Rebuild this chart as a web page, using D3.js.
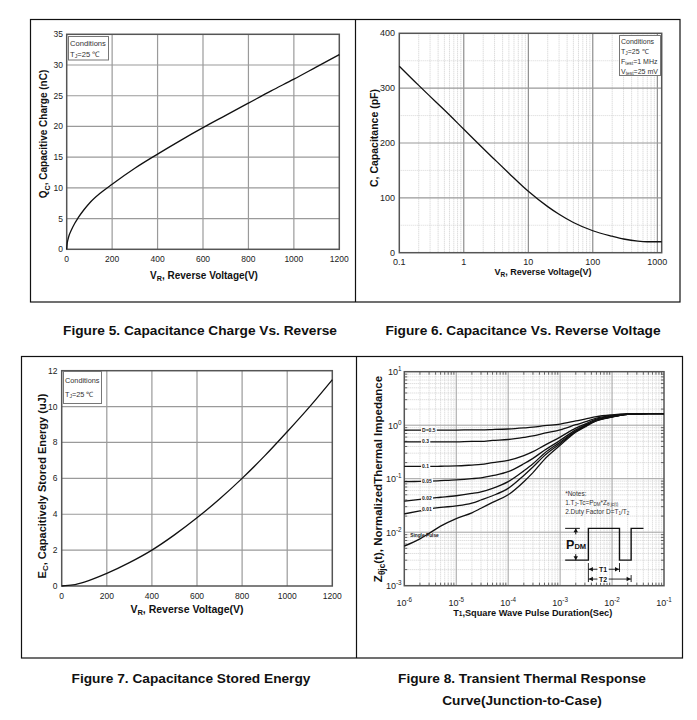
<!DOCTYPE html>
<html><head><meta charset="utf-8">
<script src="https://cdn.jsdelivr.net/npm/d3@7/dist/d3.min.js"></script>
<style>
body{margin:0;background:#fff}
svg{display:block}
text{font-family:"Liberation Sans",Arial,Helvetica,sans-serif}
</style>
</head><body>
<svg id="c" width="697" height="720"></svg>
<script>
// ---------------- DATA ----------------
// Figure 5: capacitive charge
const qcVoltage = [0,2,5,10,20,35,50,75,100,150,200,300,400,500,600,700,800,900,1000,1100,1200];
const qcCharge  = [0,0.9,1.5,2.2,3.1,4.2,5.1,6.4,7.5,9.2,10.6,13.2,15.5,17.7,19.8,21.8,23.8,25.8,27.7,29.7,31.7];
const vTicks    = [0,200,400,600,800,1000,1200];
const qcTicks   = [0,5,10,15,20,25,30,35];

// Figure 6: capacitance
const capVoltage = [0.1,0.2,0.3,0.5,1,2,3,5,10,20,30,50,100,200,300,500,700,1170];
const capValue   = [340,305,285,260,225,190,170,145,112,84,70,55,40,30,25,21,20,20];
const capXTicks  = [0.1,1,10,100,1000];
const capXLabels = ["0.1","1","10","100","1000"];
const capYTicks  = [0,100,200,300,400];
const capYMinor  = [50,150,250,350];

// Figure 7: stored energy
const ecVoltage = [0,50,100,200,300,400,500,600,700,800,900,1000,1100,1200];
const ecEnergy  = [0,0.06,0.22,0.7,1.3,2.0,2.85,3.8,4.85,6.0,7.25,8.6,10.0,11.5];
const ecTicks   = [0,2,4,6,8,10,12];

// Figure 8: transient thermal impedance
const pulseTime = [1e-6,2e-6,3e-6,5e-6,1e-5,2e-5,3e-5,5e-5,1e-4,2e-4,3e-4,5e-4,1e-3,2e-3,3e-3,5e-3,1e-2,2e-2,3e-2,5e-2,1e-1];
const zD05    = [0.81,0.81,0.81,0.81,0.81,0.82,0.82,0.83,0.85,0.89,0.92,0.98,1.05,1.2,1.3,1.45,1.56,1.62,1.63,1.64,1.64];
const zD03    = [0.49,0.49,0.49,0.49,0.49,0.5,0.5,0.52,0.54,0.59,0.63,0.71,0.82,1.02,1.15,1.36,1.52,1.62,1.63,1.64,1.64];
const zD01    = [0.17,0.17,0.17,0.171,0.173,0.18,0.185,0.2,0.22,0.27,0.32,0.42,0.6,0.88,1.05,1.3,1.48,1.61,1.63,1.64,1.64];
const zD005   = [0.088,0.089,0.09,0.092,0.095,0.1,0.104,0.114,0.135,0.19,0.24,0.34,0.52,0.82,1.0,1.25,1.45,1.6,1.63,1.64,1.64];
const zD002   = [0.038,0.041,0.043,0.045,0.048,0.053,0.057,0.066,0.088,0.14,0.19,0.3,0.48,0.78,0.97,1.23,1.44,1.6,1.63,1.64,1.64];
const zD001   = [0.022,0.025,0.027,0.029,0.031,0.035,0.04,0.048,0.066,0.115,0.165,0.27,0.45,0.76,0.95,1.22,1.43,1.6,1.63,1.64,1.64];
const zSingle = [0.0055,0.0075,0.0095,0.013,0.018,0.023,0.028,0.036,0.05,0.088,0.13,0.23,0.42,0.74,0.93,1.2,1.42,1.6,1.63,1.64,1.64];
const dutySeries = [zD05,zD03,zD01,zD005,zD002,zD001];
const dutyLabels = ["D=0.5","0.3","0.1","0.05","0.02","0.01"];
const thermXExp = [-6,-5,-4,-3,-2,-1];
const thermYExp = [-3,-2,-1,0,1];

const captions = [
  {lines:["Figure 5. Capacitance Charge Vs. Reverse"], cx:200, y:335},
  {lines:["Figure 6. Capacitance Vs. Reverse Voltage"], cx:523, y:335},
  {lines:["Figure 7. Capacitance Stored Energy"], cx:191, y:683},
  {lines:["Figure 8. Transient Thermal Response","Curve(Junction-to-Case)"], cx:522, y:683}
];

// ---------------- DRAW ----------------
const svg = d3.select("#c");
const BLACK = "#111";

// outer table frames
svg.append("rect").attr("x",30.5).attr("y",19.5).attr("width",649.5).attr("height",282.5)
  .attr("fill","none").attr("stroke",BLACK).attr("stroke-width",1.2);
svg.append("line").attr("x1",355.5).attr("x2",355.5).attr("y1",19.5).attr("y2",302)
  .attr("stroke",BLACK).attr("stroke-width",1.2);
svg.append("rect").attr("x",21.5).attr("y",356.5).attr("width",661).attr("height",301.5)
  .attr("fill","none").attr("stroke",BLACK).attr("stroke-width",1.2);
svg.append("line").attr("x1",356.5).attr("x2",356.5).attr("y1",356.5).attr("y2",658)
  .attr("stroke",BLACK).attr("stroke-width",1.2);

// captions
captions.forEach(c=>{
  c.lines.forEach((l,i)=>{
    svg.append("text").attr("x",c.cx).attr("y",c.y+i*22).attr("text-anchor","middle")
      .attr("font-size",13.7).attr("font-weight","bold").attr("fill","#111").text(l);
  });
});

function gridLine(g,x1,y1,x2,y2,stroke,w,dash){
  const l=g.append("line").attr("x1",x1).attr("y1",y1).attr("x2",x2).attr("y2",y2)
    .attr("stroke",stroke).attr("stroke-width",w);
  if(dash) l.attr("stroke-dasharray",dash);
  return l;
}
function condBox(g,x,y,w,h,lines,fs,lh){
  g.append("rect").attr("x",x).attr("y",y).attr("width",w).attr("height",h)
    .attr("fill","#fff").attr("stroke","#777").attr("stroke-width",1);
  lines.forEach((ln,i)=>{
    const t=g.append("text").attr("x",x+1.5).attr("y",y+lh*(i+1)-2).attr("font-size",fs).attr("fill","#333");
    ln.forEach(p=>{
      const ts=t.append("tspan").text(p.t);
      if(p.sub){ts.attr("font-size",fs*0.7).attr("dy",1.5);}
      else if(p.after){ts.attr("dy",-1.5);}
    });
  });
}
function rotTitle(g,x,y,parts,fs){
  const t=g.append("text").attr("transform",`translate(${x},${y}) rotate(-90)`)
    .attr("text-anchor","middle").attr("font-size",fs).attr("font-weight","bold").attr("fill","#111");
  parts.forEach(p=>{
    const ts=t.append("tspan").text(p.t);
    if(p.sub) ts.attr("font-size",fs*0.72).attr("dy",fs*0.25);
    if(p.after) ts.attr("dy",-fs*0.25);
  });
}
function hTitle(g,x,y,parts,fs){
  const t=g.append("text").attr("x",x).attr("y",y)
    .attr("text-anchor","middle").attr("font-size",fs).attr("font-weight","bold").attr("fill","#111");
  parts.forEach(p=>{
    const ts=t.append("tspan").text(p.t);
    if(p.sub) ts.attr("font-size",fs*0.72).attr("dy",fs*0.25);
    if(p.after) ts.attr("dy",-fs*0.25);
  });
}
const curveLine = (x,y)=>d3.line().x(d=>x(d[0])).y(d=>y(d[1])).curve(d3.curveMonotoneX);

// ===== Figure 5 =====
{
  const g=svg.append("g");
  const x=d3.scaleLinear().domain([0,1200]).range([66.7,339.3]);
  const y=d3.scaleLinear().domain([0,35]).range([249.3,34.3]);
  vTicks.slice(1,-1).forEach(v=>gridLine(g,x(v),y(35),x(v),y(0),"#9a9a9a",1.2));
  qcTicks.slice(1,-1).forEach(v=>gridLine(g,x(0),y(v),x(1200),y(v),"#9a9a9a",1.2));
  g.append("rect").attr("x",x(0)).attr("y",y(35)).attr("width",x(1200)-x(0)).attr("height",y(0)-y(35))
    .attr("fill","none").attr("stroke","#555").attr("stroke-width",1.5);
  vTicks.forEach(v=>g.append("text").attr("x",x(v)).attr("y",262).attr("text-anchor","middle")
    .attr("font-size",8.5).attr("fill","#222").text(v));
  qcTicks.forEach(v=>g.append("text").attr("x",63).attr("y",y(v)+3).attr("text-anchor","end")
    .attr("font-size",8.5).attr("fill","#222").text(v));
  condBox(g,68.5,36.5,40,23.5,[[{t:"Conditions"}],[{t:"T"},{t:"J",sub:true},{t:"=25 ℃",after:true}]],7.6,11);
  g.append("path").datum(qcVoltage.map((v,i)=>[v,qcCharge[i]])).attr("d",curveLine(x,y))
    .attr("fill","none").attr("stroke",BLACK).attr("stroke-width",1.3);
  rotTitle(g,47,134,[{t:"Q"},{t:"C",sub:true},{t:", Capacitive Charge (nC)",after:true}],10);
  hTitle(g,204,278.5,[{t:"V"},{t:"R",sub:true},{t:",  Reverse Voltage(V)",after:true}],10);
}

// ===== Figure 6 =====
{
  const g=svg.append("g");
  const x=d3.scaleLog().domain([0.1,1170]).range([399.3,661.7]);
  const y=d3.scaleLinear().domain([0,400]).range([252.7,33.3]);
  [0.1,1,10,100,1000].forEach(d=>{for(let k=2;k<=9;k++){const v=d*k; if(v<1170) gridLine(g,x(v),y(400),x(v),y(0),"#c4c4c4",0.8,"1,1");}});
  capYMinor.forEach(v=>gridLine(g,x(0.1),y(v),x(1170),y(v),"#cfcfcf",0.8,"1,1"));
  capXTicks.slice(1).forEach(v=>gridLine(g,x(v),y(400),x(v),y(0),"#777",1));
  capYTicks.slice(1,-1).forEach(v=>gridLine(g,x(0.1),y(v),x(1170),y(v),"#999",1.1));
  g.append("rect").attr("x",x(0.1)).attr("y",y(400)).attr("width",x(1170)-x(0.1)).attr("height",y(0)-y(400))
    .attr("fill","none").attr("stroke","#555").attr("stroke-width",1.5);
  capXTicks.forEach((v,i)=>g.append("text").attr("x",x(v)).attr("y",265).attr("text-anchor","middle")
    .attr("font-size",9).attr("fill","#222").text(capXLabels[i]));
  capYTicks.forEach(v=>g.append("text").attr("x",395).attr("y",y(v)+3).attr("text-anchor","end")
    .attr("font-size",9).attr("fill","#222").text(v));
  condBox(g,619.5,35.5,41,40,[[{t:"Conditions"}],[{t:"T"},{t:"J",sub:true},{t:"=25 ℃",after:true}],
    [{t:"F"},{t:"test",sub:true},{t:"=1 MHz",after:true}],[{t:"V"},{t:"test",sub:true},{t:"=25 mV",after:true}]],7,10);
  g.append("path").datum(capVoltage.map((v,i)=>[v,capValue[i]])).attr("d",curveLine(x,y))
    .attr("fill","none").attr("stroke",BLACK).attr("stroke-width",1.3);
  rotTitle(g,377.5,138,[{t:"C, Capacitance (pF)"}],10.5);
  hTitle(g,543,275,[{t:"V"},{t:"R",sub:true},{t:", Reverse Voltage(V)",after:true}],9);
}

// ===== Figure 7 =====
{
  const g=svg.append("g");
  const x=d3.scaleLinear().domain([0,1200]).range([61.7,332.3]);
  const y=d3.scaleLinear().domain([0,12]).range([586,370.7]);
  vTicks.slice(1,-1).forEach(v=>gridLine(g,x(v),y(12),x(v),y(0),"#9a9a9a",1.2));
  ecTicks.slice(1,-1).forEach(v=>gridLine(g,x(0),y(v),x(1200),y(v),"#9a9a9a",1.2));
  g.append("rect").attr("x",x(0)).attr("y",y(12)).attr("width",x(1200)-x(0)).attr("height",y(0)-y(12))
    .attr("fill","none").attr("stroke","#555").attr("stroke-width",1.5);
  vTicks.forEach(v=>g.append("text").attr("x",x(v)).attr("y",599).attr("text-anchor","middle")
    .attr("font-size",8.5).attr("fill","#222").text(v));
  ecTicks.forEach(v=>g.append("text").attr("x",57.5).attr("y",y(v)+3).attr("text-anchor","end")
    .attr("font-size",8.5).attr("fill","#222").text(v));
  condBox(g,63.5,371.5,38,32,[[{t:"Conditions"}],[{t:"T"},{t:"J",sub:true},{t:"=25 ℃",after:true}]],7.3,13.5);
  g.append("path").datum(ecVoltage.map((v,i)=>[v,ecEnergy[i]])).attr("d",curveLine(x,y))
    .attr("fill","none").attr("stroke",BLACK).attr("stroke-width",1.3);
  rotTitle(g,45.5,486,[{t:"E"},{t:"C",sub:true},{t:", Capacitively Stored Energy (uJ)",after:true}],11);
  hTitle(g,187,612.5,[{t:"V"},{t:"R",sub:true},{t:",  Reverse Voltage(V)",after:true}],10.5);
}

// ===== Figure 8 =====
{
  const g=svg.append("g");
  const x=d3.scaleLog().domain([1e-6,1e-1]).range([404.3,664]);
  const y=d3.scaleLog().domain([1e-3,10]).range([585.7,371.7]);
  thermXExp.slice(0,-1).forEach(e=>{for(let k=2;k<=9;k++){const v=k*Math.pow(10,e); gridLine(g,x(v),y(10),x(v),y(1e-3),"#c8c8c8",0.8,"1,1");}});
  thermYExp.slice(0,-1).forEach(e=>{for(let k=2;k<=9;k++){const v=k*Math.pow(10,e); gridLine(g,x(1e-6),y(v),x(1e-1),y(v),"#c8c8c8",0.8,"1,1");}});
  thermXExp.slice(1,-1).forEach(e=>gridLine(g,x(Math.pow(10,e)),y(10),x(Math.pow(10,e)),y(1e-3),"#a0a0a0",1));
  thermYExp.slice(1,-1).forEach(e=>gridLine(g,x(1e-6),y(Math.pow(10,e)),x(1e-1),y(Math.pow(10,e)),"#a0a0a0",1));
  thermXExp.slice(0,-1).forEach(e=>{for(let k=2;k<=9;k++){const v=k*Math.pow(10,e);
    gridLine(g,x(v),y(1e-3),x(v),y(1e-3)-3,"#444",0.8); gridLine(g,x(v),y(10),x(v),y(10)+3,"#444",0.8);}});
  thermYExp.slice(0,-1).forEach(e=>{for(let k=2;k<=9;k++){const v=k*Math.pow(10,e);
    gridLine(g,x(1e-6),y(v),x(1e-6)+3,y(v),"#444",0.8); gridLine(g,x(1e-1),y(v),x(1e-1)-3,y(v),"#444",0.8);}});
  g.append("rect").attr("x",x(1e-6)).attr("y",y(10)).attr("width",x(1e-1)-x(1e-6)).attr("height",y(1e-3)-y(10))
    .attr("fill","none").attr("stroke","#555").attr("stroke-width",1.5);
  thermXExp.forEach(e=>{
    const t=g.append("text").attr("x",x(Math.pow(10,e))).attr("y",606).attr("text-anchor","middle")
      .attr("font-size",9).attr("fill","#222");
    t.append("tspan").text("10"); t.append("tspan").attr("font-size",6.3).attr("dy",-4).text(e);
  });
  thermYExp.forEach(e=>{
    const t=g.append("text").attr("x",401.5).attr("y",y(Math.pow(10,e))+3.5).attr("text-anchor","end")
      .attr("font-size",9).attr("fill","#222");
    t.append("tspan").text("10"); t.append("tspan").attr("font-size",6.3).attr("dy",-4).text(e);
  });
  const line=curveLine(x,y);
  const all=[...dutySeries,zSingle];
  all.forEach(s=>g.append("path").datum(pulseTime.map((t,i)=>[t,s[i]])).attr("d",line)
    .attr("fill","none").attr("stroke",BLACK).attr("stroke-width",1.3));
  const lx=2.2e-6;
  dutySeries.forEach((s,i)=>{
    const yv=Math.exp(d3.scaleLinear().domain(pulseTime.map(Math.log)).range(s.map(Math.log))(Math.log(3e-6)));
    const t=g.append("text").attr("x",x(lx)).attr("y",y(yv)+1.7).attr("font-size",5).attr("font-weight","bold")
      .attr("fill","#222").text(dutyLabels[i]);
    const bb=t.node().getBBox();
    g.insert("rect",()=>t.node()).attr("x",bb.x-1).attr("y",bb.y+0.5).attr("width",bb.width+2).attr("height",bb.height-1).attr("fill","#fff");
  });
  g.append("text").attr("x",x(1.3e-6)).attr("y",y(0.0083)).attr("font-size",4.8).attr("font-weight","bold")
    .attr("fill","#222").text("Single Pulse");
  const nfs=6.5;
  g.append("text").attr("x",x(1.25e-3)).attr("y",y(0.0475)).attr("font-size",nfs).attr("fill","#333").text("*Notes:");
  const n2=g.append("text").attr("x",x(1.25e-3)).attr("y",y(0.0324)).attr("font-size",nfs).attr("fill","#333");
  n2.append("tspan").text("1.T"); n2.append("tspan").attr("font-size",4.5).attr("dy",1).text("J");
  n2.append("tspan").attr("dy",-1).text("-Tc=P"); n2.append("tspan").attr("font-size",4.5).attr("dy",1).text("DM");
  n2.append("tspan").attr("dy",-1).text("*Z"); n2.append("tspan").attr("font-size",4.5).attr("dy",1).text("θ jc(t)");
  const n3=g.append("text").attr("x",x(1.25e-3)).attr("y",y(0.0219)).attr("font-size",nfs).attr("fill","#333");
  n3.append("tspan").text("2.Duty Factor D=T"); n3.append("tspan").attr("font-size",4.5).attr("dy",1).text("1");
  n3.append("tspan").attr("dy",-1).text("/T"); n3.append("tspan").attr("font-size",4.5).attr("dy",1).text("2");
  const hi=0.0118, lo=0.0030;
  const wave=[[1.25e-3,lo],[3.5e-3,lo],[3.5e-3,hi],[1.39e-2,hi],[1.39e-2,lo],[2.33e-2,lo],[2.33e-2,hi],[4.03e-2,hi]];
  g.append("path").attr("d",d3.line().x(d=>x(d[0])).y(d=>y(d[1]))(wave)).attr("fill","none").attr("stroke",BLACK).attr("stroke-width",1.4);
  gridLine(g,x(1.25e-3),y(hi),x(2.4e-3),y(hi),BLACK,1);
  const ax=x(2.0e-3);
  function arrowHead(px,py,dir){
    const s=2.2,l=4;
    let pts;
    if(dir==="up") pts=[[px,py],[px-s,py+l],[px+s,py+l]];
    if(dir==="down") pts=[[px,py],[px-s,py-l],[px+s,py-l]];
    if(dir==="left") pts=[[px,py],[px+l,py-s],[px+l,py+s]];
    if(dir==="right") pts=[[px,py],[px-l,py-s],[px-l,py+s]];
    g.append("path").attr("d","M"+pts.map(p=>p.join(",")).join("L")+"Z").attr("fill",BLACK);
  }
  gridLine(g,ax,y(hi),ax,y(hi)+6,BLACK,1); arrowHead(ax,y(hi),"up");
  gridLine(g,ax,y(lo),ax,y(lo)-6,BLACK,1); arrowHead(ax,y(lo),"down");
  const pt=g.append("text").attr("x",x(1.3e-3)).attr("y",(y(hi)+y(lo))/2+4.5).attr("font-size",12.5).attr("font-weight","bold").attr("fill","#111");
  pt.append("tspan").text("P"); pt.append("tspan").attr("font-size",7.5).text("DM");
  gridLine(g,x(3.5e-3),y(0.00265),x(3.5e-3),y(0.00117),BLACK,0.9);
  gridLine(g,x(1.39e-2),y(0.00265),x(1.39e-2),y(0.0018),BLACK,0.9);
  gridLine(g,x(2.33e-2),y(0.00158),x(2.33e-2),y(0.00117),BLACK,0.9);
  const yT1=y(0.00203), yT2=y(0.00133);
  gridLine(g,x(3.5e-3),yT1,x(1.39e-2),yT1,BLACK,0.9);
  gridLine(g,x(3.5e-3),yT2,x(2.33e-2),yT2,BLACK,0.9);
  arrowHead(x(3.5e-3)+0.5,yT1,"left"); arrowHead(x(1.39e-2)-0.5,yT1,"right");
  arrowHead(x(3.5e-3)+0.5,yT2,"left"); arrowHead(x(2.33e-2)-0.5,yT2,"right");
  [["T1",yT1],["T2",yT2]].forEach(([s,yy])=>{
    const t=g.append("text").attr("x",x(6.7e-3)).attr("y",yy+2.5).attr("text-anchor","middle").attr("font-size",7).attr("font-weight","bold").attr("fill","#111").text(s);
    const bb=t.node().getBBox();
    g.insert("rect",()=>t.node()).attr("x",bb.x-1.5).attr("y",bb.y).attr("width",bb.width+3).attr("height",bb.height).attr("fill","#fff");
  });
  rotTitle(g,382,479,[{t:"Z"},{t:"θjc",sub:true},{t:"(t),  NormalizedThermal Impedance",after:true}],11.5);
  const xt=g.append("text").attr("x",532.7).attr("y",616).attr("text-anchor","middle").attr("font-size",9.2).attr("font-weight","bold").attr("fill","#111");
  xt.append("tspan").text("T"); xt.append("tspan").attr("font-size",6.5).text("1");
  xt.append("tspan").text(",Square Wave Pulse Duration(Sec)");
}
</script>
</body></html>
